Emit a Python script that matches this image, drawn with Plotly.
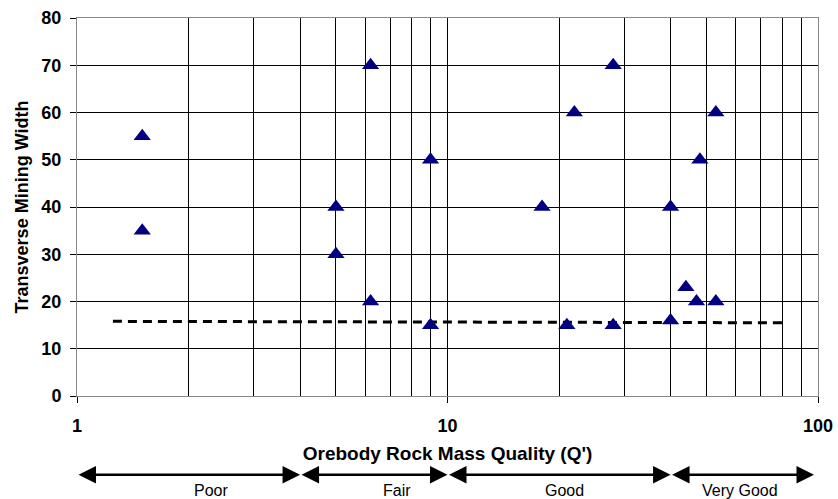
import math
import plotly.graph_objects as go

# Orebody rock mass quality (Q') and transverse mining width for each case
q_prime = [1.5, 1.5, 5, 5, 6.2, 6.2, 9, 9, 18, 22, 21, 28, 28, 40, 40, 44, 47, 48, 53, 53]
mining_width = [55, 35, 40, 30, 70, 20, 50, 15, 40, 60, 15, 70, 15, 40, 16, 23, 20, 50, 60, 20]

# Dashed guide line across the range of cases
guide_q = [1.25, 80]
guide_width = [15.8, 15.5]

# Rock mass quality classes and their Q' limits
class_names = ["Poor", "Fair", "Good", "Very Good"]
class_limits = [1, 4, 10, 40, 100]

# Axis ticks
x_major = [1, 10, 100]
x_minor = [2, 3, 4, 5, 6, 7, 8, 9, 20, 30, 40, 50, 60, 70, 80, 90]
y_ticks = [0, 10, 20, 30, 40, 50, 60, 70, 80]

FONT = "Liberation Sans, Arial, sans-serif"

fig = go.Figure()

fig.add_trace(go.Scatter(
    x=guide_q, y=guide_width, mode="lines",
    line=dict(color="black", width=3, dash="9px,6px"),
    hoverinfo="skip", showlegend=False,
))

fig.add_trace(go.Scatter(
    x=q_prime, y=mining_width, mode="markers",
    marker=dict(symbol="triangle-up", size=15, color="#000080",
                line=dict(width=0)),
    showlegend=False,
))

# Class arrows under the x axis
label_pos = [2.3, 7.3, 20.7, 61.5]
arrow_y = -0.2085
label_y = -0.251
for i, name in enumerate(class_names):
    lo, hi = class_limits[i], class_limits[i + 1]
    fig.add_annotation(
        x=math.log10(hi), y=arrow_y, xref="x", yref="paper",
        ax=math.log10(lo), ay=0, axref="x", ayref="pixel",
        text="", showarrow=True, arrowside="end+start",
        arrowhead=2, startarrowhead=2, arrowsize=1.4, startarrowsize=1.4,
        arrowwidth=2.5, arrowcolor="black",
        standoff=4 if hi == class_limits[-1] else 0, startstandoff=0,
    )
    fig.add_annotation(
        x=math.log10(label_pos[i]), y=label_y, xref="x", yref="paper",
        text=name, showarrow=False, yanchor="middle",
        font=dict(family=FONT, size=16, color="black"),
    )

fig.update_xaxes(
    type="log", range=[0, 2], automargin=False,
    tickvals=x_major, ticktext=[str(v) for v in x_major],
    ticks="outside", ticklen=6, tickcolor="black", ticklabelstandoff=7,
    tickfont=dict(family=FONT, size=18, color="black", weight="bold"),
    showgrid=True, gridcolor="black", gridwidth=1,
    minor=dict(tickvals=x_minor, showgrid=True, gridcolor="black", gridwidth=1, ticks=""),
    showline=True, linecolor="#888888", linewidth=1, mirror=True,
    title=dict(text="Orebody Rock Mass Quality (Q')", standoff=12,
               font=dict(family=FONT, size=19, color="black", weight="bold")),
)
fig.update_yaxes(
    range=[0, 80], tickvals=y_ticks, automargin=False,
    ticks="outside", ticklen=6, tickcolor="black", ticklabelstandoff=5,
    tickfont=dict(family=FONT, size=18, color="black", weight="bold"),
    showgrid=True, gridcolor="black", gridwidth=1, zeroline=False,
    showline=True, linecolor="#888888", linewidth=1, mirror=True,
    title=dict(text="Transverse Mining Width", standoff=8,
               font=dict(family=FONT, size=18, color="black", weight="bold")),
)

fig.update_layout(
    width=838, height=499,
    margin=dict(l=77, r=20, t=18, b=103),
    plot_bgcolor="white", paper_bgcolor="white",
    showlegend=False,
)

fig.write_html("out.html")
